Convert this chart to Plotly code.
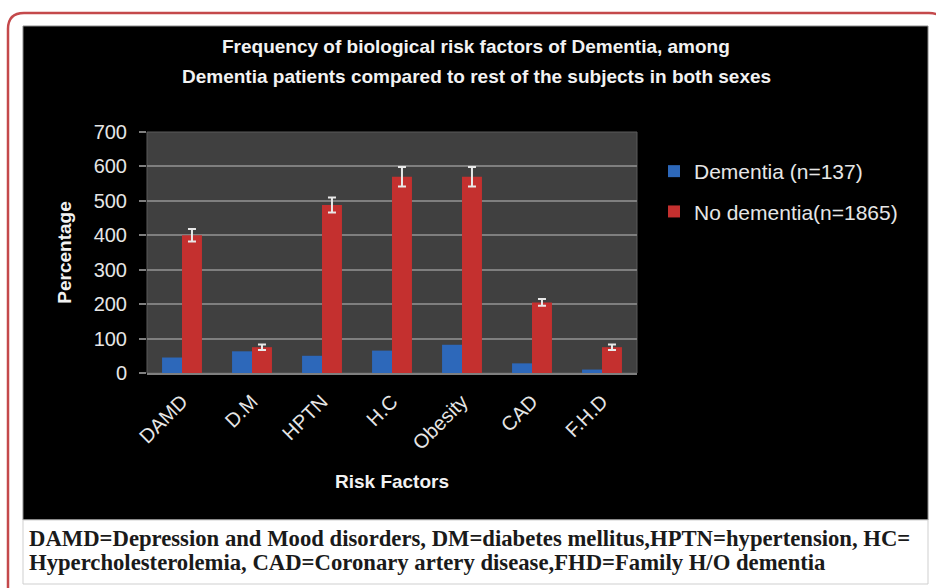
import plotly.graph_objects as go

categories = ["DAMD", "D.M", "HPTN", "H.C", "Obesity", "CAD", "F.H.D"]
dementia = [45, 63, 50, 65, 82, 28, 10]
no_dementia = [400, 75, 488, 570, 570, 205, 75]
no_dementia_err = [18, 8, 22, 28, 28, 10, 8]
y_ticks = [0, 100, 200, 300, 400, 500, 600, 700]

W, H = 936, 588
L, R, T, B = 147, 637, 132, 373  # plot area in pixels


def px(x):
    return (x - L) / (R - L)


def py(y):
    return (B - y) / (B - T)


SANS = "Liberation Sans Narrow, Arial Narrow, Liberation Sans, sans-serif"
SERIF = "Liberation Serif, Times New Roman, serif"

fig = go.Figure()
fig.add_trace(go.Bar(
    x=categories, y=dementia, name="Dementia (n=137)",
    marker=dict(color="#2d68ba", line=dict(width=0)),
    legendgroup="a",
))
fig.add_trace(go.Bar(
    x=categories, y=no_dementia, name="No dementia(n=1865)",
    marker=dict(color="#c4302f", line=dict(width=0)),
    error_y=dict(type="data", array=no_dementia_err, color="#e8e8e8", thickness=2, width=4),
    legendgroup="b",
))

# rounded red border path
x0, y0, x1, y1, r = 8, 13, 945, 610, 16
path = (
    f"M {px(x0)},{py(y0 + r)} "
    f"Q {px(x0)},{py(y0)} {px(x0 + r)},{py(y0)} "
    f"L {px(x1 - r)},{py(y0)} "
    f"Q {px(x1)},{py(y0)} {px(x1)},{py(y0 + r)} "
    f"L {px(x1)},{py(y1 - r)} "
    f"Q {px(x1)},{py(y1)} {px(x1 - r)},{py(y1)} "
    f"L {px(x0 + r)},{py(y1)} "
    f"Q {px(x0)},{py(y1)} {px(x0)},{py(y1 - r)} Z"
)

shapes = [
    dict(type="path", xref="paper", yref="paper", path=path,
         line=dict(color="#c4494b", width=2.5), fillcolor="rgba(0,0,0,0)", layer="below"),
    dict(type="rect", xref="paper", yref="paper", x0=px(23), x1=px(928), y0=py(26), y1=py(520),
         fillcolor="#000000", line=dict(color="#8a8a8a", width=1), layer="below"),
    dict(type="rect", xref="paper", yref="paper", x0=px(23), x1=px(928), y0=py(520), y1=py(584),
         fillcolor="#ffffff", line=dict(color="#cfcfcf", width=1), layer="below"),
    dict(type="rect", xref="paper", yref="paper", x0=0, x1=1, y0=0, y1=1,
         fillcolor="#404040", line=dict(color="#5a5a5a", width=1), layer="below"),
]

annotations = [
    dict(text="<b>Frequency of biological risk factors of Dementia, among</b>",
         xref="paper", yref="paper", x=px(476), y=py(47), showarrow=False,
         font=dict(family=SANS, size=19, color="#f2f2f2"), xanchor="center", yanchor="middle"),
    dict(text="<b>Dementia patients compared to rest of the subjects in both sexes</b>",
         xref="paper", yref="paper", x=px(476), y=py(77), showarrow=False,
         font=dict(family=SANS, size=19, color="#f2f2f2"), xanchor="center", yanchor="middle"),
    dict(text="<b>DAMD=Depression and Mood disorders, DM=diabetes mellitus,HPTN=hypertension, HC=</b>",
         xref="paper", yref="paper", x=px(27), y=py(538), showarrow=False,
         font=dict(family=SERIF, size=22.7, color="#1a1a1a"), xanchor="left", yanchor="middle"),
    dict(text="<b>Hypercholesterolemia, CAD=Coronary artery disease,FHD=Family H/O dementia</b>",
         xref="paper", yref="paper", x=px(27), y=py(562), showarrow=False,
         font=dict(family=SERIF, size=22.7, color="#1a1a1a"), xanchor="left", yanchor="middle"),
]

fig.update_layout(
    width=W, height=H,
    margin=dict(l=L, r=W - R, t=T, b=H - B, pad=0),
    paper_bgcolor="#ffffff",
    plot_bgcolor="rgba(0,0,0,0)",
    barmode="group",
    bargap=0.43,
    bargroupgap=0,
    shapes=shapes,
    annotations=annotations,
    showlegend=True,
    legend=dict(
        x=px(654), y=py(151), xanchor="left", yanchor="top",
        font=dict(family=SANS, size=21, color="#e6e6e6"),
        bgcolor="rgba(0,0,0,0)", tracegroupgap=10, itemwidth=30,
    ),
    xaxis=dict(
        tickangle=-45,
        tickfont=dict(family=SANS, size=20, color="#e6e6e6"),
        showgrid=False, showline=True, linecolor="#7f7f7f", linewidth=2,
        ticks="", ticklabelstandoff=7,
        title=dict(text="<b>Risk Factors</b>", font=dict(family=SANS, size=19, color="#f2f2f2"), standoff=22),
    ),
    yaxis=dict(
        range=[0, 700], tickvals=y_ticks, ticktext=[str(v) for v in y_ticks],
        tickfont=dict(family=SANS, size=20, color="#e6e6e6"),
        showgrid=True, gridcolor="#7f7f7f", gridwidth=2,
        zeroline=False, showline=False,
        ticks="outside", ticklen=7, tickcolor="#7f7f7f", tickwidth=2,
        ticklabelstandoff=8,
        title=dict(text="<b>Percentage</b>", font=dict(family=SANS, size=19, color="#f2f2f2"), standoff=16),
    ),
)

fig.write_html(
    "out.html",
    config={"displayModeBar": False},
    post_script="document.body.style.margin='0';document.body.style.padding='0';",
)
